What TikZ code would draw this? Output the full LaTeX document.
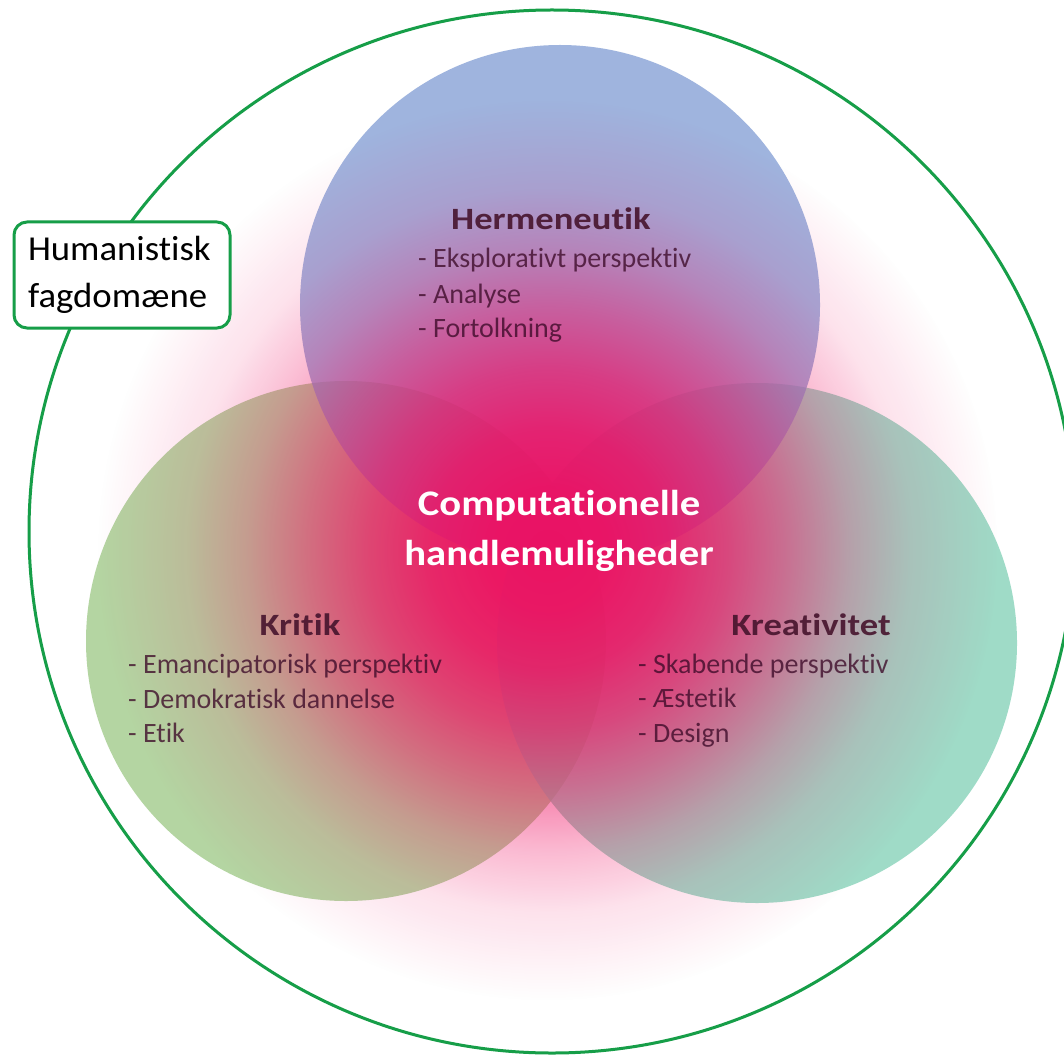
\documentclass[tikz,border=0pt]{standalone}
\usepackage{fontspec}
\setmainfont{Carlito}[Ligatures=NoCommon]
\newfontfamily\headfont{Carlito}[Ligatures=NoCommon, FakeStretch=1.18]
\newfontfamily\midfont{Carlito}[Ligatures=NoCommon, FakeStretch=1.13]
\newfontfamily\boxfont{Carlito}[Ligatures=NoCommon, FakeStretch=1.05]
\usetikzlibrary{fadings}
\definecolor{ringgreen}{RGB}{22,158,72}
\definecolor{cblue}{RGB}{127,155,211}
\definecolor{cgreen}{RGB}{156,199,132}
\definecolor{cteal}{RGB}{128,208,181}
\definecolor{glowpink}{RGB}{240,10,95}
\definecolor{headcol}{RGB}{70,20,45}
\definecolor{itemcol}{RGB}{60,10,40}
\pgfdeclareradialshading{glowshade}{\pgfpointorigin}{%
  rgb(0bp)=(0.95,0.95,0.95);
  rgb(3.33bp)=(0.93,0.93,0.93);
  rgb(6.67bp)=(0.85,0.85,0.85);
  rgb(10bp)=(0.7,0.7,0.7);
  rgb(13.33bp)=(0.5,0.5,0.5);
  rgb(16.67bp)=(0.28,0.28,0.28);
  rgb(20bp)=(0.12,0.12,0.12);
  rgb(23.33bp)=(0.04,0.04,0.04);
  rgb(25bp)=(0,0,0);
  rgb(50bp)=(0,0,0)}
\pgfdeclarefading{glowfade}{\pgfuseshading{glowshade}}
\begin{document}
\begin{tikzpicture}[x=1pt,y=-1pt,
  venn/.style={fill opacity=0.75},
  headtxt/.style={font=\fontsize{31}{38}\headfont\bfseries, text=headcol, text opacity=0.9, inner sep=0pt, anchor=base},
  itemtxt/.style={font=\fontsize{28}{34}\selectfont, text=itemcol, text opacity=0.78, inner sep=0pt, anchor=base west},
  centertxt/.style={font=\fontsize{36}{50}\midfont\bfseries, text=white, inner sep=0pt, anchor=base},
  domainbox/.style={draw=ringgreen, line width=3pt, rounded corners=13pt, fill=white, minimum width=216pt, minimum height=106pt, text width=188pt, align=left, font=\fontsize{35}{47}\boxfont, inner sep=0pt}
]
\useasboundingbox (0,0) rectangle (1064,1056);
\fill[white] (0,0) rectangle (1064,1056);
\clip (0,0) rectangle (1064,1056);
% three circles
\fill[cgreen, venn] (346,641) circle (260);
\fill[cteal, venn] (757,643) circle (260);
\fill[cblue, venn] (560,305) circle (260);
% pink glow
\coordinate (gc) at (548,550);
\fill[glowpink, path fading=glowfade] (gc) circle (450);
% outer domain ring
\draw[ringgreen, line width=3pt] (552,531.5) ellipse [x radius=523, y radius=521.5];
% domain label
\node[domainbox] (domain) at (122,275) {Humanistisk\\fagdomæne};
% Hermeneutik
\node[headtxt] (hTitle) at (551,230) {Hermeneutik};
\node[itemtxt] (h1) at (418,268) {- Eksplorativt perspektiv};
\node[itemtxt] (h2) at (418,303) {- Analyse};
\node[itemtxt] (h3) at (418,337) {- Fortolkning};
% Kritik
\node[headtxt] (kTitle) at (300,635) {Kritik};
\node[itemtxt] (k1) at (128,673) {- Emancipatorisk perspektiv};
\node[itemtxt] (k2) at (128,708) {- Demokratisk dannelse};
\node[itemtxt] (k3) at (128,742) {- Etik};
% Kreativitet
\node[headtxt] (cTitle) at (811,635) {Kreativitet};
\node[itemtxt] (c1) at (638,673) {- Skabende perspektiv};
\node[itemtxt] (c2) at (638,707) {- Æstetik};
\node[itemtxt] (c3) at (638,742) {- Design};
% centre
\node[centertxt] (mid1) at (559,515) {Computationelle};
\node[centertxt] (mid2) at (559,565) {handlemuligheder};
\end{tikzpicture}
\end{document}
